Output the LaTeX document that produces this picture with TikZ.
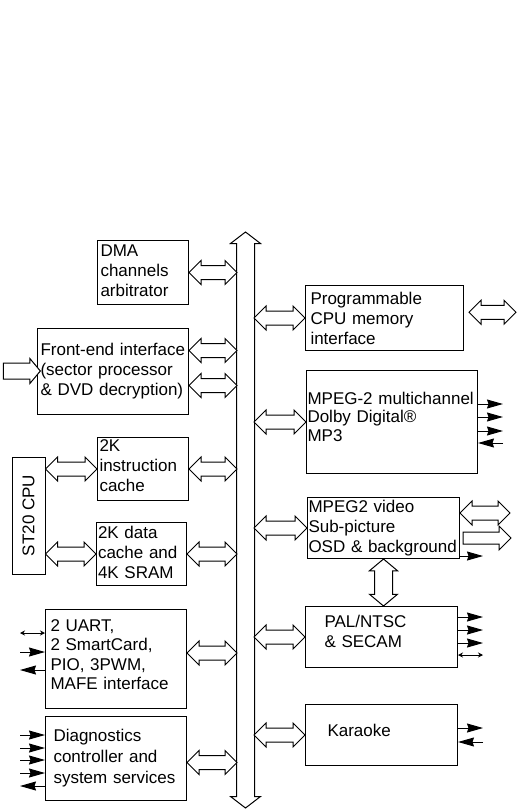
\documentclass[tikz,border=0pt]{standalone}
\usepackage{fontspec}
\setmainfont{Liberation Sans}
\usetikzlibrary{arrows.meta,positioning,shapes.arrows,calc}

\newcommand{\fatlink}[3][]{%
  \path let \p1=(#2), \p2=(#3), \n1={veclen(\x2-\x1,\y2-\y1)} in
    node[link,minimum height=\n1,#1] at ($(\p1)!.5!(\p2)$) {};}
\newcommand{\fatone}[3][]{%
  \path let \p1=(#2), \p2=(#3), \n1={veclen(\x2-\x1,\y2-\y1)} in
    node[fat,minimum height=\n1,#1] at ($(\p1)!.5!(\p2)$) {};}

\begin{document}
\begin{tikzpicture}[x=1pt,y=-1pt,
  blk/.style={draw, line width=1pt, anchor=north west, align=left, inner xsep=0pt, inner ysep=0pt, text height=13pt, font=\fontsize{17}{20}\selectfont},
  link/.style={double arrow, draw, fill=white, line width=1pt, inner xsep=0pt, inner ysep=6.5pt, minimum width=0pt, double arrow head extend=5pt, double arrow tip angle=90},
  fat/.style={single arrow, draw, fill=white, line width=1pt, inner xsep=0pt, inner ysep=5.5pt, minimum width=0pt, single arrow head extend=6pt, single arrow tip angle=90},
  sig/.style={line width=1pt, -{Stealth[length=16pt,width=9pt,inset=1.5pt]}},
  tiny/.style={line width=1pt, {Stealth[length=5pt,width=5pt]}-{Stealth[length=5pt,width=5pt]}}
]
\useasboundingbox (0,0) rectangle (517,810);

\node[link, inner ysep=8.5pt, double arrow head extend=6pt, double arrow tip angle=105, minimum height=576pt, rotate=90] (bus) at (245.5,520) {};
\coordinate (busl) at (237,520);
\coordinate (busr) at (254,520);

\node[blk, minimum width=91pt, minimum height=64pt, text width=85pt, text depth=45pt] (dma) at (97,240) {DMA\\channels\\arbitrator};
\node[blk, minimum width=151pt, minimum height=86pt, text width=145pt, text depth=46pt] (fe) at (37,328) {Front-end interface\\(sector processor\\\& DVD decryption)};
\node[draw, line width=1pt, font=\fontsize{17}{20}\selectfont, anchor=center, rotate=90, minimum width=117pt, minimum height=33pt, inner sep=0pt] (cpu) at (28.5,515.5) {ST20 CPU};
\node[blk, minimum width=91pt, minimum height=63pt, text width=87pt, text depth=48pt] (icache) at (97,437) {2K\\instruction\\cache};
\node[blk, minimum width=90pt, minimum height=63pt, text width=87pt, text depth=45pt] (dcache) at (96,522) {2K data\\cache and\\4K SRAM};
\node[blk, minimum width=141pt, minimum height=99pt, text width=131pt, text depth=68pt, font=\fontsize{17}{19.3}\selectfont] (uart) at (45,609) {2 UART,\\2 SmartCard,\\PIO, 3PWM,\\MAFE interface};
\node[blk, minimum width=141pt, minimum height=84pt, text width=125pt, text depth=48pt, font=\fontsize{17}{21}\selectfont] (diag) at (45,716) {Diagnostics\\controller and\\system services};

\node[blk, minimum width=158pt, minimum height=65pt, text width=148pt, text depth=40pt] (pcm) at (305,285) {Programmable\\CPU memory\\interface};
\node[blk, minimum width=171pt, minimum height=103pt, text width=169pt, text depth=49pt, font=\fontsize{17}{18.5}\selectfont] (audio) at (306,370) {MPEG-2 multichannel\\Dolby Digital®\\MP3};
\node[blk, minimum width=152pt, minimum height=61pt, text width=150pt, text depth=45pt] (video) at (307,497) {MPEG2 video\\Sub-picture\\OSD \& background};
\node[blk, minimum width=152pt, minimum height=61pt, text width=114pt, text depth=32pt] (pal) at (305,606) {PAL/NTSC\\\& SECAM};
\node[blk, minimum width=152pt, minimum height=61pt, text width=108pt, text depth=11pt] (kara) at (305,704) {Karaoke};

\fatlink{dma.east}{dma.east -| busl}
\fatlink{[yshift=21pt]fe.east}{[yshift=21pt]fe.east -| busl}
\fatlink{[yshift=-14pt]fe.east}{[yshift=-14pt]fe.east -| busl}
\fatlink{cpu.south |- icache.west}{icache.west}
\fatlink{icache.east}{icache.east -| busl}
\fatlink{cpu.south |- dcache.west}{dcache.west}
\fatlink{dcache.east}{dcache.east -| busl}
\fatlink{[yshift=6pt]uart.east}{[yshift=6pt]uart.east -| busl}
\fatlink{[yshift=-4pt]diag.east}{[yshift=-4pt]diag.east -| busl}

\fatlink{busr |- pcm.west}{pcm.west}
\fatlink{busr |- audio.west}{audio.west}
\fatlink{busr |- video.west}{video.west}
\fatlink{busr |- pal.west}{pal.west}
\fatlink{busr |- kara.west}{kara.west}
\fatlink[rotate=90, inner ysep=8.5pt, double arrow tip angle=100]{video.south}{video.south |- pal.north}

\coordinate (memin) at ($(pcm.east)+(5,-5.5)$);
\coordinate (memout) at (516,312);
\fatlink{memin}{memout}
\coordinate (vidout) at (510,513);
\fatlink{video.east |- vidout}{vidout}
\coordinate (osdout) at (508,538);
\fatone{video.east |- osdout}{osdout}
\coordinate (dvdin) at (0,371);
\fatone[inner ysep=7.5pt, single arrow head extend=4.5pt, single arrow tip angle=100]{dvdin}{dvdin -| fe.west}

\foreach \y [count=\i] in {404,417,431}{
  \coordinate (aout\i) at (503,\y);
  \draw[sig] (audio.east |- aout\i) -- (aout\i);}
\coordinate (ain) at (503,443);
\draw[sig] (ain) -- (audio.east |- ain);
\coordinate (vout) at (483,556);
\draw[sig] (video.east |- vout) -- (vout);

\foreach \y [count=\i] in {617,630,643}{
  \coordinate (pout\i) at (483,\y);
  \draw[sig] (pal.east |- pout\i) -- (pout\i);}
\coordinate (pbi) at (483,655);
\draw[tiny] (pal.east |- pbi) -- (pbi);

\coordinate (kout) at (483,728);
\draw[sig] (kara.east |- kout) -- (kout);
\coordinate (kin) at (483,742);
\draw[sig] (kin) -- (kara.east |- kin);

\coordinate (ubi) at (20,633);
\draw[tiny] (ubi) -- (ubi -| uart.west);
\coordinate (uin) at (20,652);
\draw[sig] (uin) -- (uin -| uart.west);
\coordinate (uout) at (20,670);
\draw[sig] (uout -| uart.west) -- (uout);

\foreach \y [count=\i] in {735,748,760,773}{
  \coordinate (din\i) at (20,\y);
  \draw[sig] (din\i) -- (din\i -| diag.west);}
\coordinate (dout) at (20,786);
\draw[sig] (dout -| diag.west) -- (dout);
\end{tikzpicture}
\end{document}
